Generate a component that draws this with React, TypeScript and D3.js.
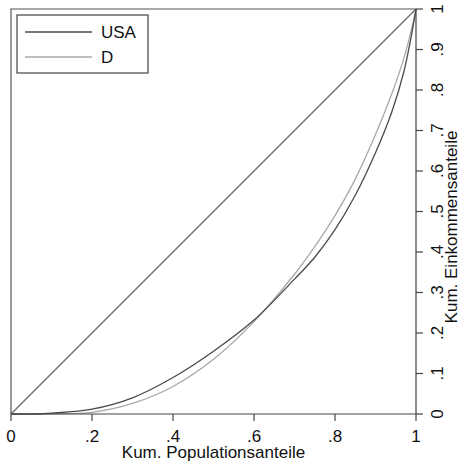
import { useEffect, useRef } from 'react'
import * as d3 from 'd3'

// cumulative population shares (x) and income shares (y)
const popShare = [0, 0.06, 0.1, 0.2, 0.3, 0.4, 0.5, 0.6, 0.7, 0.75, 0.8, 0.85, 0.9, 0.94, 0.97, 0.99, 1]
const usaShare = [0, 0, 0.002, 0.012, 0.04, 0.09, 0.155, 0.232, 0.333, 0.387, 0.455, 0.54, 0.645, 0.745, 0.845, 0.942, 1]
const deShare = [0, 0, 0.0005, 0.004, 0.026, 0.068, 0.135, 0.228, 0.345, 0.413, 0.49, 0.58, 0.69, 0.79, 0.878, 0.955, 1]
const tickValues = [0, 0.1, 0.2, 0.3, 0.4, 0.5, 0.6, 0.7, 0.8, 0.9, 1]
const xTickValues = [0, 0.2, 0.4, 0.6, 0.8, 1]
const fmt = (d: number) => (d === 0 ? '0' : d === 1 ? '1' : d3.format('.1f')(d).replace(/^0/, ''))

const FONT = 'Liberation Sans, Arial, sans-serif'
const FS = 17

export default function App() {
  const svgRef = useRef<SVGSVGElement>(null)

  useEffect(() => {
    if (!svgRef.current) return
    const svg = d3.select(svgRef.current)
    svg.selectAll('*').remove()

    const x = d3.scaleLinear().domain([0, 1]).range([11, 416])
    const y = d3.scaleLinear().domain([0, 1]).range([414, 9])

    // frame (left + top)
    svg.append('path')
      .attr('d', `M${x(0)},${y(0)}V${y(1)}H${x(1)}`)
      .attr('fill', 'none').attr('stroke', '#555').attr('stroke-width', 1.2)

    // line of equality
    svg.append('line')
      .attr('x1', x(0)).attr('y1', y(0)).attr('x2', x(1)).attr('y2', y(1))
      .attr('stroke', '#6a6a6a').attr('stroke-width', 1.2)

    const series = [
      { name: 'USA', vals: usaShare, color: '#4a4a4a' },
      { name: 'D', vals: deShare, color: '#a8a8a8' },
    ]
    const line = d3.line<number>()
      .x((_, i) => x(popShare[i]))
      .y(d => y(d))
      .curve(d3.curveCatmullRom.alpha(0.5))

    series.slice().reverse().forEach(s => {
      svg.append('path')
        .attr('d', line(s.vals))
        .attr('fill', 'none').attr('stroke', s.color).attr('stroke-width', 1.3)
    })

    // bottom axis
    const bottom = svg.append('g').attr('transform', `translate(0,${y(0)})`)
    bottom.append('line').attr('x1', x(0)).attr('x2', x(1)).attr('stroke', '#444').attr('stroke-width', 1.2)
    xTickValues.forEach(v => {
      bottom.append('line').attr('x1', x(v)).attr('x2', x(v)).attr('y1', 0).attr('y2', 7)
        .attr('stroke', '#444').attr('stroke-width', 1.2)
      bottom.append('text').attr('x', x(v)).attr('y', 28)
        .attr('text-anchor', 'middle').attr('font-family', FONT).attr('font-size', FS).attr('fill', '#111')
        .text(fmt(v))
    })
    svg.append('text').attr('x', (x(0) + x(1)) / 2).attr('y', 458)
      .attr('text-anchor', 'middle').attr('font-family', FONT).attr('font-size', FS).attr('fill', '#111')
      .text('Kum. Populationsanteile')

    // right axis
    const right = svg.append('g').attr('transform', `translate(${x(1)},0)`)
    right.append('line').attr('y1', y(0)).attr('y2', y(1)).attr('stroke', '#444').attr('stroke-width', 1.2)
    tickValues.forEach(v => {
      right.append('line').attr('x1', 0).attr('x2', 7).attr('y1', y(v)).attr('y2', y(v))
        .attr('stroke', '#444').attr('stroke-width', 1.2)
      right.append('text')
        .attr('transform', `translate(27,${y(v)}) rotate(-90)`)
        .attr('text-anchor', 'middle').attr('font-family', FONT).attr('font-size', FS).attr('fill', '#111')
        .text(fmt(v))
    })
    svg.append('text')
      .attr('transform', `translate(457,${227}) rotate(-90)`)
      .attr('text-anchor', 'middle').attr('font-family', FONT).attr('font-size', FS).attr('fill', '#111')
      .text('Kum. Einkommensanteile')

    // legend
    const lg = svg.append('g')
    lg.append('rect').attr('x', 17).attr('y', 15).attr('width', 131).attr('height', 58)
      .attr('fill', '#fff').attr('stroke', '#444').attr('stroke-width', 1.2)
    series.forEach((s, i) => {
      const ly = 32 + i * 25
      lg.append('line').attr('x1', 25).attr('x2', 92).attr('y1', ly).attr('y2', ly)
        .attr('stroke', s.color).attr('stroke-width', 1.3)
      lg.append('text').attr('x', 101).attr('y', ly + 6)
        .attr('font-family', FONT).attr('font-size', FS).attr('fill', '#111')
        .text(s.name)
    })
  }, [])

  return (
    <svg
      ref={svgRef}
      width={461}
      height={463}
      style={{ position: 'absolute', left: 0, top: 0, background: '#fff' }}
    />
  )
}
